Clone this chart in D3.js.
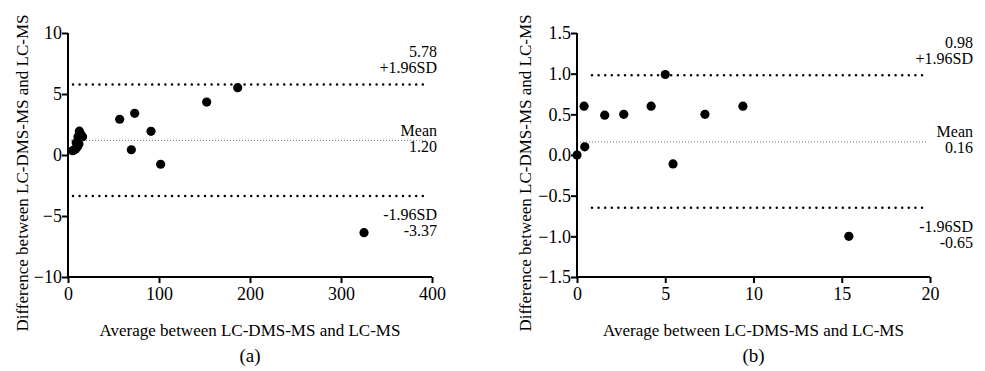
<!DOCTYPE html>
<html>
<head>
<meta charset="utf-8">
<script src="https://cdn.jsdelivr.net/npm/d3@7"></script>
<style>
  html, body { margin: 0; padding: 0; background: #fff; }
  svg { display: block; font-family: "Liberation Serif", "Times New Roman", serif; }
</style>
</head>
<body>
<svg id="chart" width="985" height="371"></svg>
<script>
// ── Panel (a) data
const avgA = [5, 6.5, 8.5, 9, 10.5, 12, 11, 12.5, 14, 16, 56.8, 73.3, 91.2, 69.6, 101.8, 152.4, 186.5, 325.3];
const diffA = [0.35, 0.4, 0.5, 1.0, 0.7, 0.9, 1.5, 1.95, 1.7, 1.5, 2.93, 3.42, 1.94, 0.43, -0.76, 4.34, 5.52, -6.37];
const xTicksA = [0, 100, 200, 300, 400];
const yTicksA = [-10, -5, 0, 5, 10];
const limitsA = { upper: 5.78, mean: 1.20, lower: -3.37 };

// ── Panel (b) data
const avgB = [0, 0.44, 0.4, 1.57, 2.65, 4.2, 5.0, 5.44, 7.25, 9.4, 15.4];
const diffB = [0, 0.1, 0.6, 0.49, 0.5, 0.6, 0.99, -0.11, 0.5, 0.6, -1.0];
const xTicksB = [0, 5, 10, 15, 20];
const yTicksB = [-1.5, -1.0, -0.5, 0, 0.5, 1.0, 1.5];
const limitsB = { upper: 0.98, mean: 0.16, lower: -0.65 };

const yTitle = "Difference between LC-DMS-MS and LC-MS";
const xTitle = "Average between LC-DMS-MS and LC-MS";

const svg = d3.select("#chart");

function drawPanel(opt) {
  const x = d3.scaleLinear().domain(opt.xDomain).range([opt.left, opt.right]);
  const y = d3.scaleLinear().domain(opt.yDomain).range([277, 33]);
  const g = svg.append("g");

  // ── Limit lines (±1.96SD heavy dots, mean fine grey dots)
  const sdStart = opt.left + opt.sdInset;
  [opt.limits.upper, opt.limits.lower].forEach((v) => {
    g.append("line")
      .attr("x1", sdStart).attr("x2", opt.right - 4)
      .attr("y1", y(v)).attr("y2", y(v))
      .attr("stroke", "#000").attr("stroke-width", 2.5)
      .attr("stroke-linecap", "round")
      .attr("stroke-dasharray", "0 6.6");
  });
  g.append("line")
    .attr("x1", opt.left).attr("x2", opt.right - 4)
    .attr("y1", y(opt.limits.mean)).attr("y2", y(opt.limits.mean))
    .attr("stroke", "#777").attr("stroke-width", 1)
    .attr("stroke-dasharray", "1 2");

  // ── Axes
  const xAxis = d3.axisBottom(x).tickValues(opt.xTicks).tickSize(6).tickPadding(4)
    .tickFormat(d3.format("d"));
  const yAxis = d3.axisLeft(y).tickValues(opt.yTicks).tickSize(6).tickPadding(0)
    .tickFormat(opt.yFormat);

  const gx = g.append("g").attr("transform", `translate(0,${y(opt.yDomain[0])})`).call(xAxis);
  const gy = g.append("g").attr("transform", `translate(${x(0)},0)`).call(yAxis);
  [gx, gy].forEach((a) => {
    a.attr("font-size", 18).attr("font-family", "Liberation Serif");
    a.select(".domain").attr("stroke", "#000").attr("stroke-width", 2);
    a.selectAll(".tick line").attr("stroke", "#000").attr("stroke-width", 2);
    a.selectAll(".tick text").attr("fill", "#000");
  });
  gx.select(".domain").attr("d", `M${opt.left},0H${opt.right}`);
  gy.select(".domain").attr("d", `M0,${y(opt.yDomain[1])}V${y(opt.yDomain[0])}`);

  // ── Points
  g.append("g").selectAll("circle")
    .data(opt.xs.map((v, i) => [v, opt.ys[i]]))
    .join("circle")
    .attr("cx", (d) => x(d[0]))
    .attr("cy", (d) => y(d[1]))
    .attr("r", 4.6)
    .attr("fill", "#000");

  // ── Limit labels
  const lab = (txt, yy) => g.append("text")
    .attr("x", opt.labelX).attr("y", yy)
    .attr("text-anchor", "end").attr("font-size", 16).attr("fill", "#000")
    .text(txt);
  lab(opt.limits.upper.toFixed(2), y(opt.limits.upper) - 27);
  lab("+1.96SD", y(opt.limits.upper) - 11);
  lab("Mean", y(opt.limits.mean) - 4.5);
  lab(opt.limits.mean.toFixed(2), y(opt.limits.mean) + 11.5);
  lab("-1.96SD", y(opt.limits.lower) + 24);
  lab(opt.limits.lower.toFixed(2), y(opt.limits.lower) + 40);

  // ── Titles
  const cx = (opt.left + opt.right) / 2;
  g.append("text")
    .attr("transform", `translate(${opt.yTitleX},173) rotate(-90)`)
    .attr("text-anchor", "middle").attr("font-size", 17).attr("fill", "#000")
    .text(yTitle);
  g.append("text")
    .attr("x", cx).attr("y", 336)
    .attr("text-anchor", "middle").attr("font-size", 17).attr("fill", "#000")
    .text(xTitle);
  g.append("text")
    .attr("x", cx).attr("y", 362)
    .attr("text-anchor", "middle").attr("font-size", 19).attr("fill", "#000")
    .text(opt.tag);
}

drawPanel({
  xs: avgA, ys: diffA, xTicks: xTicksA, yTicks: yTicksA, limits: limitsA,
  xDomain: [0, 400], yDomain: [-10, 10], left: 68, right: 432,
  sdInset: 5, labelX: 437, yTitleX: 28, tag: "(a)",
  yFormat: d3.format("d"),
});

drawPanel({
  xs: avgB, ys: diffB, xTicks: xTicksB, yTicks: yTicksB, limits: limitsB,
  xDomain: [0, 20], yDomain: [-1.5, 1.5], left: 577, right: 930,
  sdInset: 15, labelX: 973, yTitleX: 531, tag: "(b)",
  yFormat: d3.format(".1f"),
});
</script>
</body>
</html>
